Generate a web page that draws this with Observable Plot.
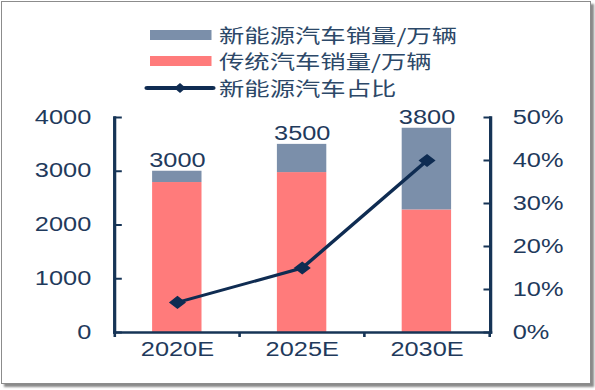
<!DOCTYPE html>
<html>
<head>
<meta charset="utf-8">
<script src="https://cdn.jsdelivr.net/npm/d3@7"></script>
<script src="https://cdn.jsdelivr.net/npm/@observablehq/plot@0.6"></script>
<style>
  html, body { margin: 0; padding: 0; background: #fff; }
  #page { position: relative; width: 595px; height: 390px; overflow: hidden; background: #fff; }
  #border { position: absolute; left: 1px; top: 1px; width: 588px; height: 381px;
            border: 1.5px solid #8c8c8c; box-shadow: 3px 3px 2px #8a8a8a; background: #fff; }
  #wrap { position: absolute; left: 0; top: 0; transform-origin: 0 0; }
  #wrap svg { display: block; overflow: visible; }
</style>
</head>
<body>
<div id="page">
  <div id="border"></div>
  <div id="wrap"></div>
</div>
<script>
// ---- data ----
const years = ["2020E", "2025E", "2030E"];
const nevSales = [210, 525, 1520];          // 新能源汽车销量/万辆
const iceSales = [2790, 2975, 2280];        // 传统汽车销量/万辆
const totals = [3000, 3500, 3800];
const nevShare = [7, 15, 40];               // 新能源汽车占比 (%)
const leftTicks = [0, 1000, 2000, 3000, 4000];
const rightTicks = [0, 10, 20, 30, 40, 50];
const seriesNames = ["新能源汽车销量/万辆", "传统汽车销量/万辆", "新能源汽车占比"];

// ---- styles ----
const NEV = "#7b8faa", ICE = "#ff7b7b", LINE = "#0f2c52", AXIS = "#163456", TXT = "#1f3a5c";
const SX = 1.3;                       // the reference is horizontally stretched
const W = 595 / SX;
const ML = 114 / SX, MR = W - 490 / SX;
const step = (W - ML - MR) / years.length;
const ratio = d3.max(leftTicks) / d3.max(rightTicks);

const rows = [];
years.forEach((y, i) => {
  rows.push({year: y, type: seriesNames[1], value: iceSales[i]});
  rows.push({year: y, type: seriesNames[0], value: nevSales[i]});
});
const shareRows = years.map((y, i) => ({year: y, v: nevShare[i] * ratio}));
const totalRows = years.map((y, i) => ({year: y, v: totals[i]}));

const wrap = document.getElementById("wrap");
wrap.style.width = W + "px";
wrap.style.transform = `scaleX(${SX})`;

// ---- legend ----
const ns = "http://www.w3.org/2000/svg";
const leg = document.createElementNS(ns, "svg");
leg.setAttribute("width", W); leg.setAttribute("height", 100);
const swX = 150 / SX, swW = 61.5 / SX, txX = 219 / SX;
const rowY = [35, 61, 88];
function el(tag, attrs, text) {
  const e = document.createElementNS(ns, tag);
  for (const k in attrs) e.setAttribute(k, attrs[k]);
  if (text) e.textContent = text;
  leg.appendChild(e);
  return e;
}
el("rect", {x: swX, y: rowY[0] - 5, width: swW, height: 10, fill: NEV});
el("rect", {x: swX, y: rowY[1] - 5, width: swW, height: 10, fill: ICE});
el("line", {x1: 147 / SX, x2: 213 / SX, y1: rowY[2], y2: rowY[2], stroke: LINE, "stroke-width": 4, "stroke-linecap": "round"});
const dc = 180 / SX;
el("path", {d: `M${dc - 4.5},${rowY[2]}L${dc},${rowY[2] - 5}L${dc + 4.5},${rowY[2]}L${dc},${rowY[2] + 5}Z`, fill: LINE});
seriesNames.forEach((s, i) => {
  el("text", {x: txX, y: rowY[i], "dominant-baseline": "central", fill: "#2c4868",
    "font-family": "'Noto Sans CJK SC', sans-serif", "font-size": "19.5px"}, s);
});
wrap.appendChild(leg);

// ---- chart ----
const chart = Plot.plot({
  width: W,
  height: 270,
  marginTop: 17,
  marginBottom: 38,
  marginLeft: ML,
  marginRight: MR,
  style: {fontFamily: "'Liberation Sans', Arial, sans-serif", fontSize: "19.5px", color: TXT, background: "transparent", overflow: "visible"},
  x: {domain: years, paddingInner: 0.6, paddingOuter: 0.3, label: null},
  y: {domain: [0, d3.max(leftTicks)], label: null},
  color: {domain: [seriesNames[0], seriesNames[1]], range: [NEV, ICE]},
  marks: [
    Plot.barY(rows, {x: "year", y: "value", fill: "type", order: [seriesNames[1], seriesNames[0]]}),
    Plot.text(totalRows, {x: "year", y: "v", text: d => String(d.v), dy: -4, lineAnchor: "bottom", fill: TXT, fontSize: 19.5}),
    Plot.line(shareRows, {x: "year", y: "v", stroke: LINE, strokeWidth: 3}),
    Plot.dot(shareRows, {x: "year", y: "v", symbol: "square", rotate: 45, r: 4.4, fill: LINE, stroke: LINE}),
    Plot.frame({anchor: "left", stroke: AXIS, strokeWidth: 2.5}),
    Plot.frame({anchor: "right", stroke: AXIS, strokeWidth: 2.5}),
    Plot.frame({anchor: "bottom", stroke: AXIS, strokeWidth: 2.5}),
    Plot.axisY(leftTicks, {anchor: "left", tickSize: 6, dx: 6, tickPadding: 18, tickFormat: d => String(d), stroke: AXIS, strokeWidth: 2, fill: TXT, label: null}),
    Plot.axisY(rightTicks.map(t => t * ratio), {anchor: "right", tickSize: 6, dx: -6, tickPadding: 17, tickFormat: d => (d / ratio) + "%", stroke: AXIS, strokeWidth: 2, fill: TXT, label: null}),
    Plot.axisX({anchor: "bottom", tickSize: 0, tickPadding: 10, fill: TXT, label: null}),
    Plot.axisX(years, {anchor: "bottom", tickSize: 5, dx: -step / 2, tickFormat: () => "", stroke: AXIS, strokeWidth: 2, label: null}),
    Plot.axisX(years.slice(-1), {anchor: "bottom", tickSize: 5, dx: step / 2, tickFormat: () => "", stroke: AXIS, strokeWidth: 2, label: null})
  ]
});
wrap.appendChild(chart);
</script>
</body>
</html>
